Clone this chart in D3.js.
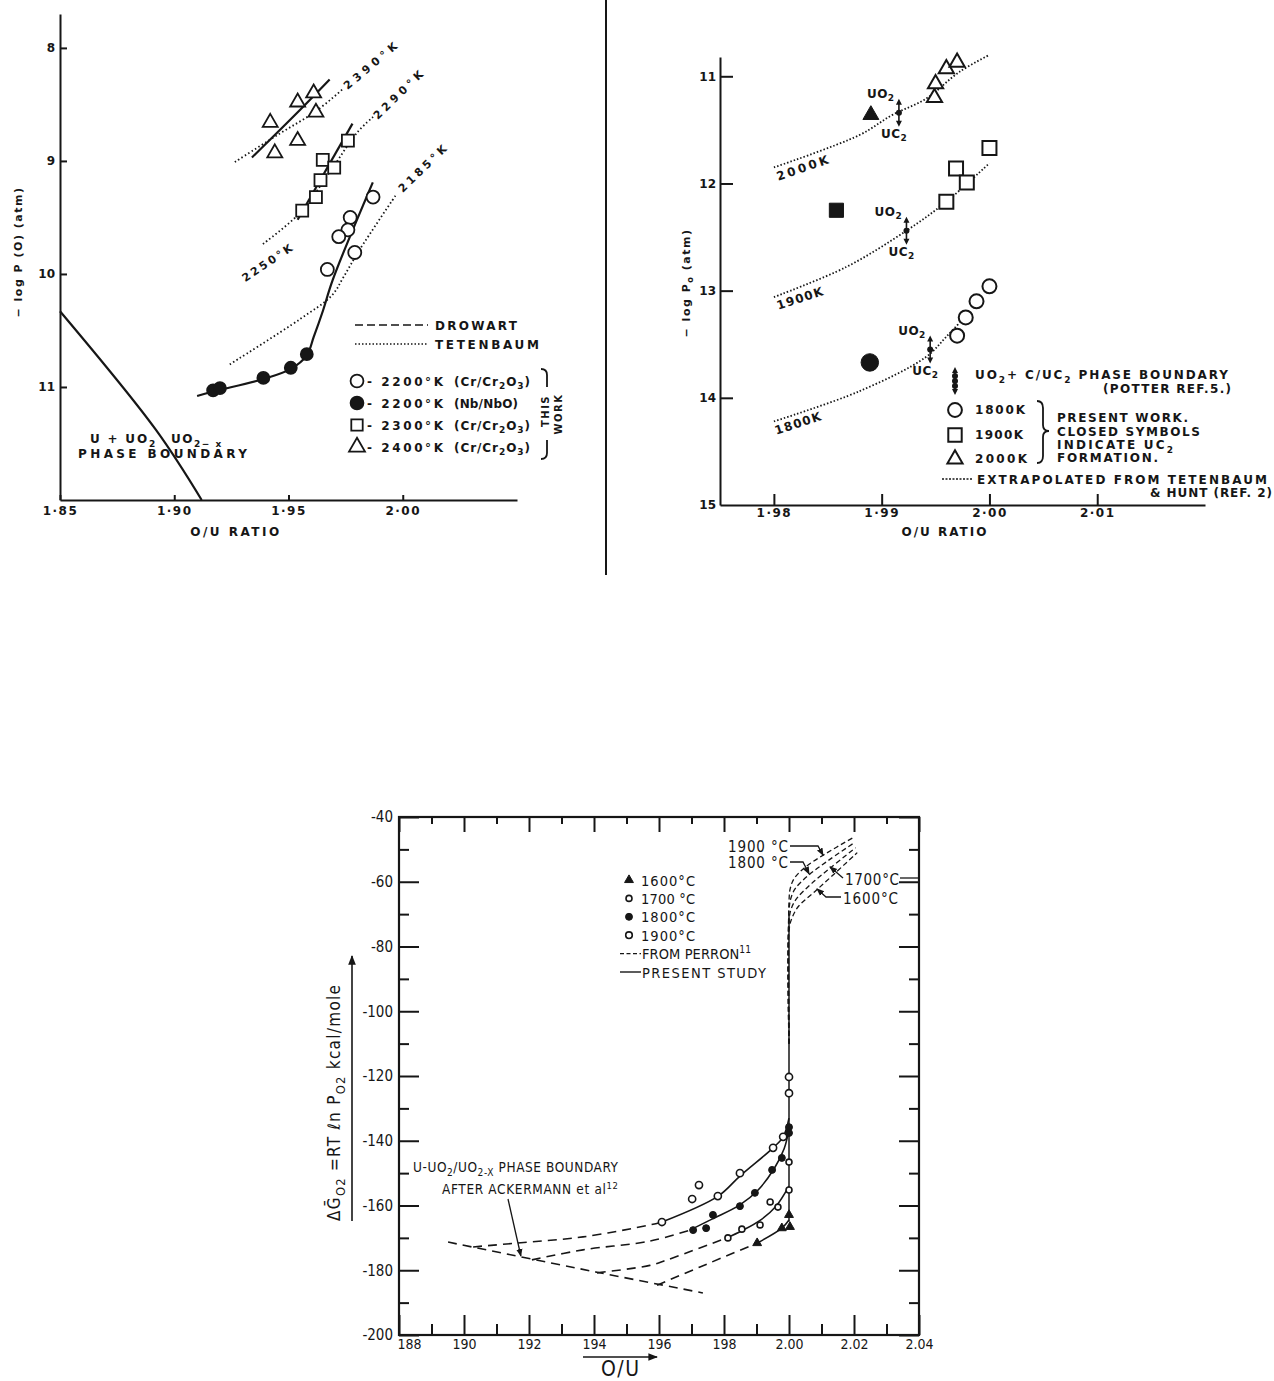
<!DOCTYPE html>
<html>
<head>
<meta charset="utf-8">
<script src="https://cdn.jsdelivr.net/npm/d3@7/dist/d3.min.js"></script>
<style>
  body { margin: 0; background: #fff; }
  svg { display: block; }
</style>
</head>
<body>
<svg id="fig" width="1274" height="1381"></svg>
<script>
// ---------- top left: -log P(O) vs O/U ratio ----------
var aXTicks = [1.85, 1.90, 1.95, 2.00];
var aYTicks = [8, 9, 10, 11];
var aOpenCircle = [[1.987, 9.32], [1.977, 9.50], [1.976, 9.61], [1.972, 9.67], [1.979, 9.81], [1.967, 9.96]];
var aFilledCircle = [[1.917, 11.03], [1.920, 11.01], [1.939, 10.92], [1.951, 10.83], [1.958, 10.71]];
var aSquare = [[1.976, 8.82], [1.965, 8.99], [1.970, 9.06], [1.964, 9.17], [1.962, 9.32], [1.956, 9.44]];
var aTriangle = [[1.942, 8.66], [1.954, 8.48], [1.961, 8.40], [1.962, 8.57], [1.954, 8.82], [1.944, 8.93]];
var aFit2200 = [[1.910, 11.08], [1.917, 11.04], [1.939, 10.93], [1.951, 10.84], [1.958, 10.72], [1.961, 10.56], [1.965, 10.33], [1.9694, 10.05], [1.9869, 9.19]];
var aFit2300 = [[1.954, 9.52], [1.978, 8.67]];
var aFit2400 = [[1.934, 8.97], [1.955, 8.55], [1.968, 8.28]];
var aTet2390 = [[1.9265, 9.01], [1.946, 8.76], [1.962, 8.56], [1.974, 8.36]];
var aTet2290 = [[1.9388, 9.735], [1.955, 9.46], [1.968, 9.10], [1.980, 8.75], [1.987, 8.61]];
var aTet2185 = [[1.9243, 10.80], [1.955, 10.40], [1.969, 10.19], [1.974, 10.03], [1.981, 9.79], [1.9974, 9.29]];
var aBoundary = [[1.85, 10.33], [1.892, 11.38], [1.912, 12.0]];
var aLegendRows = [
  { sym: "circle", fill: false, temp: "2200°K", cell: "(Cr/Cr{2}O{3})" },
  { sym: "circle", fill: true, temp: "2200°K", cell: "(Nb/NbO)" },
  { sym: "square", fill: false, temp: "2300°K", cell: "(Cr/Cr{2}O{3})" },
  { sym: "triangle", fill: false, temp: "2400°K", cell: "(Cr/Cr{2}O{3})" }
];

// ---------- top right: -log Po vs O/U ratio ----------
var bXTicks = [1.98, 1.99, 2.00, 2.01];
var bYTicks = [11, 12, 13, 14, 15];
var bCircle1800 = [[1.9970, 13.42], [1.9978, 13.25], [1.9988, 13.10], [2.0000, 12.96]];
var bSquare1900 = [[2.0000, 11.67], [1.9969, 11.86], [1.9979, 11.99], [1.9960, 12.17]];
var bTriangle2000 = [[1.9949, 11.20], [1.9950, 11.07], [1.9960, 10.93], [1.9970, 10.87]];
var bClosedCircle = [[1.9889, 13.67]];
var bClosedSquare = [[1.9858, 12.25]];
var bClosedTriangle = [[1.9890, 11.36]];
var bPhaseMarks = [[1.9916, 11.34], [1.9923, 12.44], [1.9945, 13.55]];
var bTet2000 = [[1.980, 11.85], [1.9879, 11.55], [1.9910, 11.36], [1.9941, 11.21], [1.9972, 10.96], [2.0000, 10.80]];
var bTet1900 = [[1.980, 13.06], [1.9867, 12.78], [1.9923, 12.44], [1.9960, 12.17], [2.0000, 11.81]];
var bTet1800 = [[1.980, 14.22], [1.9879, 13.94], [1.9941, 13.62], [1.9960, 13.43], [1.9976, 13.26]];

// ---------- bottom: partial molar free energy of O2 vs O/U ----------
var cXTicks = [1.88, 1.90, 1.92, 1.94, 1.96, 1.98, 2.00, 2.02, 2.04];
var cXLabels = ["188", "190", "192", "194", "196", "198", "2.00", "2.02", "2.04"];
var cXMinor = [1.89, 1.91, 1.93, 1.95, 1.97, 1.99, 2.01, 2.03];
var cYTicks = [-40, -60, -80, -100, -120, -140, -160, -180, -200];
var cYMinor = [-50, -70, -90, -110, -130, -150, -170, -190];
var c1600 = [[2.0, -162.9], [1.9978, -167.0], [2.0003, -166.6], [1.9902, -171.6]];
var c1700 = [[1.9812, -170.0], [1.9855, -167.3], [1.9911, -166.0], [1.9942, -158.9], [1.9966, -160.5], [2.0, -155.2], [2.0, -146.6]];
var c1800 = [[1.9705, -167.6], [1.9745, -167.0], [1.9766, -162.9], [1.9849, -160.2], [1.9895, -156.1], [1.9948, -149.0], [1.9978, -145.3], [2.0, -135.8], [2.0, -137.6]];
var c1900 = [[2.0, -120.3], [2.0, -125.3], [1.9982, -138.8], [1.9951, -142.2], [1.9849, -150.0], [1.9781, -157.1], [1.9609, -165.1], [1.9702, -158.0], [1.9723, -153.7]];
var cFit1900 = [[1.9609, -165.1], [1.9782, -157.1], [1.9849, -150.9], [1.9951, -142.2], [1.9982, -138.8], [2.0, -133.0]];
var cFit1800 = [[1.9695, -167.6], [1.9763, -164.2], [1.9849, -159.8], [1.9905, -155.2], [1.9955, -148.5], [1.9985, -142.5], [2.0, -136.5]];
var cFit1700 = [[1.9809, -170.0], [1.9855, -167.8], [1.9911, -164.6], [1.9960, -160.2], [2.0, -154.0]];
var cFit1600 = [[1.9902, -171.6], [1.9978, -167.0], [2.0, -164.5]];
var cDash1900 = [[1.9028, -172.8], [1.9163, -171.6], [1.9366, -169.7], [1.9572, -166.0], [1.9609, -165.1]];
var cDash1800 = [[1.9209, -176.8], [1.9366, -173.7], [1.9572, -171.0], [1.9695, -167.6]];
var cDash1700 = [[1.9409, -180.8], [1.9572, -178.5], [1.9625, -176.8], [1.9809, -170.0]];
var cDash1600 = [[1.9594, -184.6], [1.9726, -179.0], [1.9902, -171.6]];
var cBoundary = [[1.8951, -171.3], [1.9409, -180.6], [1.9735, -187.0]];
var cVertical = [[2.0, -165.0], [2.0, -70.0]];
var cPerron = [
  [[2.0, -110], [2.0, -66], [2.0004, -62], [2.0016, -59], [2.005, -55.5], [2.011, -51.5], [2.0195, -46.5]],
  [[2.0, -110], [2.0, -69], [2.0006, -65], [2.002, -62], [2.006, -58], [2.012, -53.5], [2.020, -48]],
  [[2.0, -110], [2.0, -72], [2.0008, -68], [2.0025, -65], [2.007, -60.5], [2.013, -55.5], [2.0205, -49.5]],
  [[2.0, -110], [2.0, -75], [2.001, -71], [2.003, -67.5], [2.008, -63], [2.014, -57.5], [2.021, -51]]
];
var cLegendTemps = ["1600°C", "1700 °C", "1800°C", "1900°C"];

var ink = "#161616";
var fontA = "'DejaVu Sans', Verdana, sans-serif";
var fontC = "'DejaVu Sans Condensed', 'DejaVu Sans', sans-serif";

var svg = d3.select("#fig");
svg.append("rect").attr("width", 1274).attr("height", 1381).attr("fill", "#fff");

var defs = svg.append("defs");
defs.append("marker").attr("id", "arr").attr("viewBox", "0 0 10 10")
    .attr("refX", 9).attr("refY", 5).attr("markerWidth", 6).attr("markerHeight", 6)
    .attr("orient", "auto")
  .append("path").attr("d", "M0,1L10,5L0,9z").attr("fill", ink);

// text with {sub} and [sup] parts
function rich(t, s, fs) {
  var parts = s.split(/(\{[^}]*\}|\[[^\]]*\])/);
  var shift = 0;
  parts.forEach(function(p) {
    if (!p) return;
    var target = 0, str = p, size = null;
    if (p[0] == "{") { target = fs * 0.3; str = p.slice(1, -1); size = fs * 0.75; }
    else if (p[0] == "[") { target = -fs * 0.4; str = p.slice(1, -1); size = fs * 0.7; }
    var ts = t.append("tspan").text(str);
    if (target - shift != 0) ts.attr("dy", target - shift);
    if (size) ts.attr("font-size", size);
    shift = target;
  });
}

function txt(g, x, y, s, o) {
  o = o || {};
  var fs = o.size || 12;
  var t = g.append("text").attr("x", x).attr("y", y)
    .attr("font-size", fs)
    .attr("font-family", o.family || fontA)
    .attr("font-weight", o.weight || "bold")
    .attr("text-anchor", o.anchor || "start")
    .attr("fill", ink);
  if (o.spacing != null) t.attr("letter-spacing", o.spacing);
  if (o.len) t.attr("textLength", o.len).attr("lengthAdjust", "spacing");
  if (o.mid) t.attr("dominant-baseline", "central");
  if (o.rotate) t.attr("transform", "rotate(" + o.rotate + "," + x + "," + y + ")");
  rich(t, s, fs);
  return t;
}

function styleAxis(g, fs, family, weight, w) {
  g.attr("font-family", null).attr("font-size", null);
  g.select(".domain").attr("stroke", ink).attr("stroke-width", w);
  g.selectAll(".tick line").attr("stroke", ink).attr("stroke-width", w);
  g.selectAll(".tick text").attr("fill", ink).attr("font-size", fs)
    .attr("font-family", family).attr("font-weight", weight);
}

function curve(g, data, x, y, o) {
  o = o || {};
  var line = d3.line().x(function(d) { return x(d[0]); }).y(function(d) { return y(d[1]); })
    .curve(o.linear ? d3.curveLinear : d3.curveCatmullRom.alpha(0.5));
  return g.append("path").datum(data).attr("d", line)
    .attr("fill", "none").attr("stroke", ink)
    .attr("stroke-width", o.w || 2)
    .attr("stroke-dasharray", o.dash || null)
    .attr("stroke-linecap", o.cap || "butt");
}

var symTypes = { circle: d3.symbolCircle, square: d3.symbolSquare, triangle: d3.symbolTriangle };

function dots(g, data, x, y, type, size, filled, sw) {
  g.append("g").selectAll("path").data(data).enter().append("path")
    .attr("d", d3.symbol().type(symTypes[type]).size(size)())
    .attr("transform", function(d) { return "translate(" + x(d[0]) + "," + y(d[1]) + ")"; })
    .attr("fill", filled ? ink : "#fff")
    .attr("stroke", ink).attr("stroke-width", sw || 1.8);
}

var dotFmt = function(d) { return d.toFixed(2).replace(".", "·"); };

// ===================== panel A =====================
var gA = svg.append("g");
var xA = d3.scaleLinear().domain([1.85, 2.05]).range([60, 517]);
var yA = d3.scaleLinear().domain([7.7, 12]).range([14, 500]);

var axA = gA.append("g").attr("transform", "translate(0," + yA(12) + ")")
  .call(d3.axisBottom(xA).tickValues(aXTicks).tickSizeInner(-5).tickSizeOuter(0).tickPadding(6).tickFormat(dotFmt));
styleAxis(axA, 12, fontA, "bold", 2);
axA.selectAll(".tick text").attr("letter-spacing", 1.5);
var ayA = gA.append("g").attr("transform", "translate(" + xA(1.85) + ",0)")
  .call(d3.axisLeft(yA).tickValues(aYTicks).tickSizeInner(-7).tickSizeOuter(0).tickPadding(5).tickFormat(d3.format("d")));
styleAxis(ayA, 12, fontA, "bold", 2);

txt(gA, 236, 536, "O/U  RATIO", { anchor: "middle", size: 12, spacing: 2.5 });
txt(gA, 22, 252, "− log  P (O)  (atm)", { anchor: "middle", size: 11, spacing: 1.5, rotate: -90 });

curve(gA, aBoundary, xA, yA, { w: 2.2 });
curve(gA, aTet2390, xA, yA, { w: 1.8, dash: "1.5,2.5" });
curve(gA, aTet2290, xA, yA, { w: 1.8, dash: "1.5,2.5" });
curve(gA, aTet2185, xA, yA, { w: 1.8, dash: "1.5,2.5" });
curve(gA, aFit2200, xA, yA, { w: 2.2 });
curve(gA, aFit2300, xA, yA, { w: 2.2, linear: true });
curve(gA, aFit2400, xA, yA, { w: 2.2 });

dots(gA, aFilledCircle, xA, yA, "circle", 113, true);
dots(gA, aOpenCircle, xA, yA, "circle", 133, false);
dots(gA, aSquare, xA, yA, "square", 144, false);
dots(gA, aTriangle, xA, yA, "triangle", 97, false);

txt(gA, 345, 87, "2390°K", { size: 11, rotate: -40, mid: true, len: 66 });
txt(gA, 375, 117, "2290°K", { size: 11, rotate: -44, mid: true, len: 64 });
txt(gA, 400, 190, "2185°K", { size: 11, rotate: -44, mid: true, len: 62 });
txt(gA, 243, 279, "2250°K", { size: 11, rotate: -34, mid: true, len: 58 });

txt(gA, 90, 443, "U + UO{2}", { size: 12, spacing: 1.8 });
txt(gA, 171, 443, "UO{2}{− x}", { size: 12, spacing: 1.5 });
txt(gA, 78, 458, "PHASE BOUNDARY", { size: 12, len: 169 });

// legend A
gA.append("line").attr("x1", 355).attr("x2", 428).attr("y1", 325).attr("y2", 325)
  .attr("stroke", ink).attr("stroke-width", 1.6).attr("stroke-dasharray", "8,4");
txt(gA, 435, 329.5, "DROWART", { size: 12, len: 82 });
gA.append("line").attr("x1", 355).attr("x2", 428).attr("y1", 344).attr("y2", 344)
  .attr("stroke", ink).attr("stroke-width", 1.6).attr("stroke-dasharray", "1.5,2");
txt(gA, 435, 348.5, "TETENBAUM", { size: 12, len: 104 });

var aRowY = d3.scalePoint().domain(d3.range(aLegendRows.length)).range([381, 447]);
aLegendRows.forEach(function(r, i) {
  var yy = aRowY(i);
  gA.append("path").attr("d", d3.symbol().type(symTypes[r.sym]).size(r.sym == "triangle" ? 110 : 130)())
    .attr("transform", "translate(357," + yy + ")")
    .attr("fill", r.fill ? ink : "#fff").attr("stroke", ink).attr("stroke-width", 1.8);
  txt(gA, 367, yy + 4.5, "- " + r.temp, { size: 12, len: 76 });
  txt(gA, 454, yy + 4.5, r.cell, { size: 12, len: r.cell.length > 9 ? 76 : 64 });
});
gA.append("path").attr("d", "M541,369 Q547,369 547,375 L547,387 M547,440 L547,453 Q547,459 541,459")
  .attr("fill", "none").attr("stroke", ink).attr("stroke-width", 1.8);
txt(gA, 545, 411, "THIS", { size: 10, anchor: "middle", rotate: -90, mid: true, spacing: 1.5 });
txt(gA, 558, 414, "WORK", { size: 10, anchor: "middle", rotate: -90, mid: true, spacing: 1.5 });

// divider
svg.append("line").attr("x1", 606).attr("x2", 606).attr("y1", 0).attr("y2", 575)
  .attr("stroke", ink).attr("stroke-width", 2);

// ===================== panel B =====================
var gB = svg.append("g");
var xB = d3.scaleLinear().domain([1.975, 2.02]).range([720, 1205]);
var yB = d3.scaleLinear().domain([10.82, 15]).range([57, 505]);

var axB = gB.append("g").attr("transform", "translate(0," + yB(15) + ")")
  .call(d3.axisBottom(xB).tickValues(bXTicks).tickSizeInner(-11).tickSizeOuter(0).tickPadding(3).tickFormat(dotFmt));
styleAxis(axB, 12, fontA, "bold", 2);
axB.selectAll(".tick text").attr("letter-spacing", 1.5);
var ayB = gB.append("g").attr("transform", "translate(" + xB(1.975) + ",0)")
  .call(d3.axisLeft(yB).tickValues(bYTicks).tickSizeInner(-13).tickSizeOuter(0).tickPadding(4).tickFormat(d3.format("d")));
styleAxis(ayB, 12, fontA, "bold", 2);
ayB.selectAll(".tick").filter(function(d) { return d == 15; }).select("line").remove();

txt(gB, 945, 536, "O/U RATIO", { anchor: "middle", size: 12, spacing: 2 });
txt(gB, 690, 283, "− log  P{o}   (atm)", { anchor: "middle", size: 11, spacing: 1.5, rotate: -90 });

curve(gB, bTet2000, xB, yB, { w: 1.8, dash: "1.5,2" });
curve(gB, bTet1900, xB, yB, { w: 1.8, dash: "1.5,2" });
curve(gB, bTet1800, xB, yB, { w: 1.8, dash: "1.5,2" });

dots(gB, bCircle1800, xB, yB, "circle", 154, false, 2);
dots(gB, bSquare1900, xB, yB, "square", 196, false, 2);
dots(gB, bTriangle2000, xB, yB, "triangle", 100, false, 2);
dots(gB, bClosedCircle, xB, yB, "circle", 240, true, 1);
dots(gB, bClosedSquare, xB, yB, "square", 200, true, 1);
dots(gB, bClosedTriangle, xB, yB, "triangle", 110, true, 1);

function phaseMark(g, px, py, extra) {
  var m = g.append("g").attr("transform", "translate(" + px + "," + py + ")");
  m.append("line").attr("y1", -10).attr("y2", 10).attr("stroke", ink).attr("stroke-width", 1.6);
  m.append("path").attr("d", "M0,-14L-3,-8L3,-8z M0,14L-3,8L3,8z").attr("fill", ink);
  var ds = extra ? [-5, 0, 5] : [0];
  ds.forEach(function(d) { m.append("circle").attr("cy", d).attr("r", 3).attr("fill", ink); });
}
bPhaseMarks.forEach(function(d) {
  var px = xB(d[0]), py = yB(d[1]);
  phaseMark(gB, px, py, false);
  txt(gB, px - 32, py - 15, "UO{2}", { size: 12, spacing: 0.5 });
  txt(gB, px - 18, py + 25, "UC{2}", { size: 12, spacing: 0.5 });
});

txt(gB, 777, 177, "2000K", { size: 12, rotate: -19, mid: true, len: 54 });
txt(gB, 777, 306, "1900K", { size: 12, rotate: -18, mid: true, len: 48 });
txt(gB, 775, 431, "1800K", { size: 12, rotate: -18, mid: true, len: 48 });

// legend B
phaseMark(gB, 955, 381, true);
txt(gB, 975, 379, "UO{2}+ C/UC{2}  PHASE  BOUNDARY", { size: 12, len: 253 });
txt(gB, 1231, 393, "(POTTER REF.5.)", { size: 12, len: 128, anchor: "end" });
gB.append("path").attr("d", d3.symbol().type(d3.symbolCircle).size(150)())
  .attr("transform", "translate(955,410)").attr("fill", "#fff").attr("stroke", ink).attr("stroke-width", 2);
gB.append("path").attr("d", d3.symbol().type(d3.symbolSquare).size(180)())
  .attr("transform", "translate(955,435)").attr("fill", "#fff").attr("stroke", ink).attr("stroke-width", 2);
gB.append("path").attr("d", d3.symbol().type(d3.symbolTriangle).size(100)())
  .attr("transform", "translate(955,459)").attr("fill", "#fff").attr("stroke", ink).attr("stroke-width", 2);
txt(gB, 975, 414, "1800K", { size: 12, len: 50 });
txt(gB, 975, 439, "1900K", { size: 12, len: 48 });
txt(gB, 975, 463, "2000K", { size: 12, len: 52 });
gB.append("path")
  .attr("d", "M1037,401 Q1043,401 1043,408 L1043,425 Q1043,431 1049,431 Q1043,431 1043,437 L1043,456 Q1043,463 1037,463")
  .attr("fill", "none").attr("stroke", ink).attr("stroke-width", 1.8);
txt(gB, 1057, 422, "PRESENT  WORK.", { size: 12, len: 131 });
txt(gB, 1057, 436, "CLOSED  SYMBOLS", { size: 12, len: 143 });
txt(gB, 1057, 449, "INDICATE  UC{2}", { size: 12, len: 116 });
txt(gB, 1057, 462, "FORMATION.", { size: 12, len: 101 });
gB.append("line").attr("x1", 942).attr("x2", 973).attr("y1", 479).attr("y2", 479)
  .attr("stroke", ink).attr("stroke-width", 1.6).attr("stroke-dasharray", "2,1.5");
txt(gB, 977, 483.5, "EXTRAPOLATED  FROM  TETENBAUM", { size: 12, len: 290 });
txt(gB, 1272, 497, "& HUNT (REF. 2)", { size: 12, len: 122, anchor: "end" });

// ===================== panel C =====================
var gC = svg.append("g");
var xC = d3.scaleLinear().domain([1.88, 2.04]).range([399, 919]);
var yC = d3.scaleLinear().domain([-40, -200]).range([817, 1335]);

function ticks(axis, vals, len, labels) {
  var a = axis.tickValues(vals).tickSizeInner(-len).tickSizeOuter(0);
  return labels ? a : a.tickFormat("");
}
var cx0 = xC(1.88), cx1 = xC(2.04), cy0 = yC(-40), cy1 = yC(-200);
var axL = gC.append("g").attr("transform", "translate(" + cx0 + ",0)")
  .call(ticks(d3.axisLeft(yC), cYTicks, 20, true).tickPadding(6).tickFormat(function(d) { return String(d); }));
styleAxis(axL, 15, fontC, "normal", 2);
var axL2 = gC.append("g").attr("transform", "translate(" + cx0 + ",0)").call(ticks(d3.axisLeft(yC), cYMinor, 10));
styleAxis(axL2, 15, fontC, "normal", 2);
var axR = gC.append("g").attr("transform", "translate(" + cx1 + ",0)").call(ticks(d3.axisRight(yC), cYTicks, 20));
styleAxis(axR, 15, fontC, "normal", 2);
var axR2 = gC.append("g").attr("transform", "translate(" + cx1 + ",0)").call(ticks(d3.axisRight(yC), cYMinor, 10));
styleAxis(axR2, 15, fontC, "normal", 2);
var axBt = gC.append("g").attr("transform", "translate(0," + cy1 + ")")
  .call(ticks(d3.axisBottom(xC), cXTicks, 20, true).tickPadding(4)
    .tickFormat(function(d, i) { return cXLabels[i]; }));
styleAxis(axBt, 14, fontC, "normal", 2);
axBt.selectAll(".tick text").filter(function(d, i) { return i == 0; }).attr("dx", 10);
var axBt2 = gC.append("g").attr("transform", "translate(0," + cy1 + ")").call(ticks(d3.axisBottom(xC), cXMinor, 11));
styleAxis(axBt2, 15, fontC, "normal", 2);
var axT = gC.append("g").attr("transform", "translate(0," + cy0 + ")").call(ticks(d3.axisTop(xC), cXTicks, 15));
styleAxis(axT, 15, fontC, "normal", 2);
var axT2 = gC.append("g").attr("transform", "translate(0," + cy0 + ")").call(ticks(d3.axisTop(xC), cXMinor, 7));
styleAxis(axT2, 15, fontC, "normal", 2);
gC.selectAll(".domain").remove();
gC.append("rect").attr("x", cx0).attr("y", cy0).attr("width", cx1 - cx0).attr("height", cy1 - cy0)
  .attr("fill", "none").attr("stroke", ink).attr("stroke-width", 2.2);

// axis titles
var yt = txt(gC, 340, 1103, "", { size: 17, family: fontC, weight: "normal", anchor: "middle", rotate: -90, len: 236 });
rich(yt, "ΔḠ{O2} =RT ℓn P{O2} kcal/mole", 17);
gC.append("line").attr("x1", 352).attr("x2", 352).attr("y1", 1221).attr("y2", 956)
  .attr("stroke", ink).attr("stroke-width", 1.6).attr("marker-end", "url(#arr)");
txt(gC, 620, 1376, "O/U", { size: 21, family: fontC, weight: "normal", anchor: "middle", len: 38 });
gC.append("line").attr("x1", 583).attr("x2", 657).attr("y1", 1357).attr("y2", 1357)
  .attr("stroke", ink).attr("stroke-width", 1.6).attr("marker-end", "url(#arr)");

// curves
var dashC = "9,6";
curve(gC, cBoundary, xC, yC, { w: 1.6, dash: dashC });
[cDash1900, cDash1800, cDash1700, cDash1600].forEach(function(d) { curve(gC, d, xC, yC, { w: 1.6, dash: dashC }); });
[cFit1900, cFit1800, cFit1700, cFit1600].forEach(function(d) { curve(gC, d, xC, yC, { w: 1.6 }); });
curve(gC, cVertical, xC, yC, { w: 1.5, linear: true });
cPerron.forEach(function(d) { curve(gC, d, xC, yC, { w: 1.3, dash: "5,3" }); });

dots(gC, c1900, xC, yC, "circle", 40, false, 1.6);
dots(gC, c1700, xC, yC, "circle", 28, false, 1.6);
dots(gC, c1800, xC, yC, "circle", 38, true, 1);
dots(gC, c1600, xC, yC, "triangle", 34, true, 1);

// temperature labels on Perron curves
function leader(g, pts) {
  g.append("path").attr("d", "M" + pts.map(function(p) { return p.join(","); }).join("L"))
    .attr("fill", "none").attr("stroke", ink).attr("stroke-width", 1.3).attr("marker-end", "url(#arr)");
}
txt(gC, 788, 852, "1900 °C", { size: 15, family: fontC, weight: "normal", anchor: "end", len: 60 });
leader(gC, [[790, 846], [818, 846], [xC(2.0105), yC(-51.8)]]);
txt(gC, 788, 868, "1800 °C", { size: 15, family: fontC, weight: "normal", anchor: "end", len: 60 });
leader(gC, [[790, 862], [803, 862], [xC(2.0062), yC(-57.6)]]);
txt(gC, 845, 885, "1700°C", { size: 15, family: fontC, weight: "normal", len: 54 });
leader(gC, [[843, 878], [xC(2.0126), yC(-55.4)]]);
gC.append("line").attr("x1", 900).attr("x2", cx1).attr("y1", 878).attr("y2", 878).attr("stroke", ink).attr("stroke-width", 1.3);
txt(gC, 843, 904, "1600°C", { size: 15, family: fontC, weight: "normal", len: 55 });
leader(gC, [[841, 897], [826, 897], [xC(2.0086), yC(-62.2)]]);

// legend C
var cRowY = d3.scalePoint().domain(d3.range(6)).range([880, 972]);
var cLegSyms = [["triangle", true, 34], ["circle", false, 28], ["circle", true, 38], ["circle", false, 34]];
cLegendTemps.forEach(function(t, i) {
  var s = cLegSyms[i];
  gC.append("path").attr("d", d3.symbol().type(symTypes[s[0]]).size(s[2])())
    .attr("transform", "translate(629," + cRowY(i) + ")")
    .attr("fill", s[1] ? ink : "#fff").attr("stroke", ink).attr("stroke-width", s[1] ? 1 : 1.6);
  txt(gC, 641, cRowY(i) + 5.5, t, { size: 14.5, family: fontC, weight: "normal", len: 54 });
});
gC.append("line").attr("x1", 620).attr("x2", 641).attr("y1", cRowY(4)).attr("y2", cRowY(4))
  .attr("stroke", ink).attr("stroke-width", 1.4).attr("stroke-dasharray", "4,2.5");
txt(gC, 642, cRowY(4) + 5.5, "FROM PERRON[11]", { size: 14.5, family: fontC, weight: "normal", len: 109 });
gC.append("line").attr("x1", 620).attr("x2", 641).attr("y1", cRowY(5)).attr("y2", cRowY(5))
  .attr("stroke", ink).attr("stroke-width", 1.4);
txt(gC, 642, cRowY(5) + 5.5, "PRESENT STUDY", { size: 14.5, family: fontC, weight: "normal", len: 124 });

// phase boundary note
txt(gC, 413, 1172, "U-UO{2}/UO{2-X} PHASE BOUNDARY", { size: 13.5, family: fontC, weight: "normal", len: 205 });
txt(gC, 442, 1194, "AFTER ACKERMANN et al[12]", { size: 13.5, family: fontC, weight: "normal", len: 176 });
leader(gC, [[508, 1199], [xC(1.9175), yC(-175.6)]]);
</script>
</body>
</html>
